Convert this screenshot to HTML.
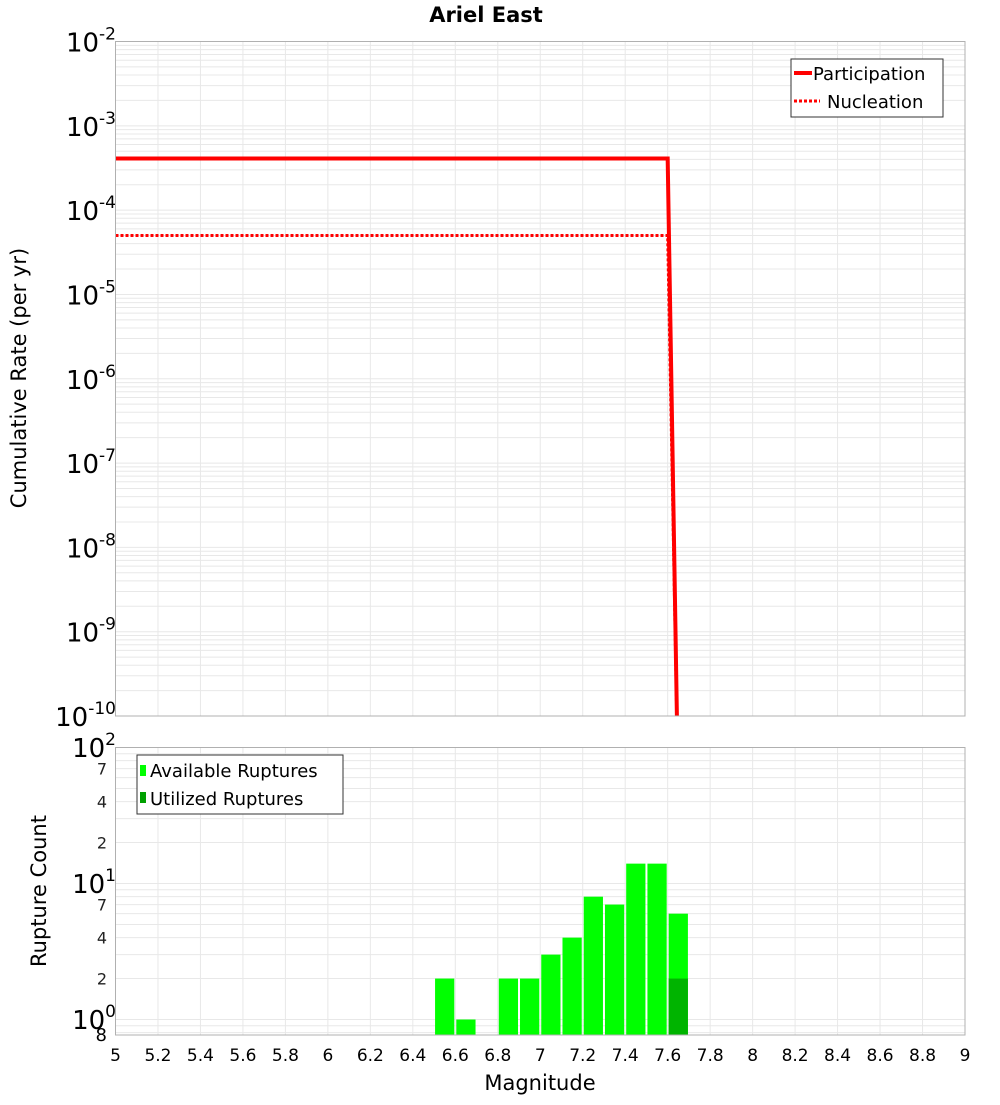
<!DOCTYPE html>
<html><head><meta charset="utf-8"><style>
body{margin:0;background:#fff;width:1000px;height:1100px;overflow:hidden}
svg{font-family:"DejaVu Sans","Liberation Sans",sans-serif}
</style></head><body>
<svg id="c" width="1000" height="1100"></svg>
<script>
const partX=[5,7.6,7.65];
const partY=[4.1e-4,4.1e-4,1e-11];
const nuclX=[5,7.6,7.65];
const nuclY=[5e-5,5e-5,1e-11];
const binStarts=[6.5,6.6,6.8,6.9,7.0,7.1,7.2,7.3,7.4,7.5,7.6];
const availCounts=[2,1,2,2,3,4,8,7,14,14,6];
const utilStarts=[7.6];
const utilCounts=[2];
const xTicks=[5,5.2,5.4,5.6,5.8,6,6.2,6.4,6.6,6.8,7,7.2,7.4,7.6,7.8,8,8.2,8.4,8.6,8.8,9];
const xTickLabels=["5","5.2","5.4","5.6","5.8","6","6.2","6.4","6.6","6.8","7","7.2","7.4","7.6","7.8","8","8.2","8.4","8.6","8.8","9"];
const topExps=[-10,-9,-8,-7,-6,-5,-4,-3,-2];
const botMinorTicks=[2,4,7,20,40,70];
const botMinorLabels=["2","4","7","2","4","7"];

const NS="http://www.w3.org/2000/svg";
const svg=document.getElementById('c');
function el(t,a,p){const e=document.createElementNS(NS,t);for(const k in a)e.setAttribute(k,a[k]);(p||svg).appendChild(e);return e;}
const L=115.5,R=965;
const T1=41.5,B1=716;
const T2=747.5,B2=1035;
const xs=v=>L+(v-5)/4*(R-L);
const y1=v=>B1-(Math.log10(v)+10)/8*(B1-T1);
const y2=v=>1019.5-Math.log10(v)*136;

let t=el('text',{x:486,y:22,'text-anchor':'middle','font-size':21,'font-weight':'bold'});
t.textContent='Ariel East';



const g1=el('g',{});


for(const v of xTicks){el('line',{x1:xs(v),x2:xs(v),y1:T1,y2:B1,stroke:'#e8e8e8'},g1);el('line',{x1:xs(v),x2:xs(v),y1:T2,y2:B2,stroke:'#e8e8e8'},g1);}
for(let e=-10;e<-2;e++)for(let m=1;m<10;m++){const y=y1(m*Math.pow(10,e));el('line',{x1:L,x2:R,y1:y,y2:y,stroke:'#e8e8e8'},g1);}
for(let e=-1;e<2;e++)for(let m=1;m<10;m++){const v=m*Math.pow(10,e);const y=y2(v);if(y>B2||y<T2)continue;el('line',{x1:L,x2:R,y1:y,y2:y,stroke:'#e8e8e8'},g1);}

const defs=el('defs',{});
const cp=el('clipPath',{id:'cp1'},defs);el('rect',{x:L,y:T1,width:R-L,height:B1-T1},cp);

const pl=el('polyline',{points:partX.map((x,i)=>xs(x)+','+y1(partY[i])).join(' '),fill:'none',stroke:'#ff0000','stroke-width':4,'clip-path':'url(#cp1)'});


const nl=el('polyline',{points:nuclX.map((x,i)=>xs(x)+','+y1(nuclY[i])).join(' '),fill:'none',stroke:'#ff0000','stroke-width':3,'stroke-dasharray':'3,2','clip-path':'url(#cp1)'});



binStarts.forEach((s,i)=>{const r=el('rect',{x:xs(s)+1,y:y2(availCounts[i]),width:xs(s+0.1)-xs(s)-2,height:B2-y2(availCounts[i]),fill:'#00ff00'});

});
utilStarts.forEach((s,i)=>{const r=el('rect',{x:xs(s)+1,y:y2(utilCounts[i]),width:xs(s+0.1)-xs(s)-2,height:B2-y2(utilCounts[i]),fill:'#00b400'});

});

for(const [a,b] of [[T1,B1],[T2,B2]]){const f=el('rect',{x:L,y:a,width:R-L,height:b-a,fill:'none',stroke:'#b0b0b0'});

}

for(const e of topExps){const y=y1(Math.pow(10,e));
const tx=el('text',{x:116,y:y+10,'text-anchor':'end','font-size':26});
tx.innerHTML='10<tspan dy="-12" font-size="17">'+e+'</tspan>';

}
[[0,1019],[1,883],[2,747]].forEach(([e,y])=>{const tx=el('text',{x:116,y:y+10,'text-anchor':'end','font-size':26});
tx.innerHTML='10<tspan dy="-12" font-size="17">'+e+'</tspan>';

});
botMinorTicks.forEach((v,i)=>{const tx=el('text',{x:107,y:y2(v)+6,'text-anchor':'end','font-size':16,fill:'#222'});
tx.textContent=botMinorLabels[i];

});
t=el('text',{x:107,y:1041,'text-anchor':'end','font-size':18});t.textContent='8';



xTicks.forEach((v,i)=>{const tx=el('text',{x:xs(v),y:1061,'text-anchor':'middle','font-size':17});
tx.textContent=xTickLabels[i];

});

t=el('text',{x:540,y:1090,'text-anchor':'middle','font-size':21});t.textContent='Magnitude';


t=el('text',{x:0,y:0,'text-anchor':'middle','font-size':21,transform:'translate(26,378) rotate(-90)'});t.textContent='Cumulative Rate (per yr)';


t=el('text',{x:0,y:0,'text-anchor':'middle','font-size':21,transform:'translate(46,891) rotate(-90)'});t.textContent='Rupture Count';



const lg=el('g',{});


el('rect',{x:791,y:59,width:152,height:58,fill:'#fff',stroke:'#333'},lg);
el('line',{x1:794,x2:812,y1:73,y2:73,stroke:'#f00','stroke-width':4},lg);
el('line',{x1:794,x2:820,y1:101,y2:101,stroke:'#f00','stroke-width':3,'stroke-dasharray':'3,2'},lg);
t=el('text',{x:813,y:80,'font-size':18},lg);t.textContent='Participation';
t=el('text',{x:827,y:108,'font-size':18},lg);t.textContent='Nucleation';
const lg2=el('g',{});


el('rect',{x:137,y:755,width:206,height:59,fill:'#fff',stroke:'#333'},lg2);
el('rect',{x:140,y:765,width:6,height:11,fill:'#00ff00'},lg2);
el('rect',{x:140,y:792,width:6,height:11,fill:'#00a000'},lg2);
t=el('text',{x:150,y:777,'font-size':18},lg2);t.textContent='Available Ruptures';
t=el('text',{x:150,y:805,'font-size':18},lg2);t.textContent='Utilized Ruptures';
</script>
</body></html>
